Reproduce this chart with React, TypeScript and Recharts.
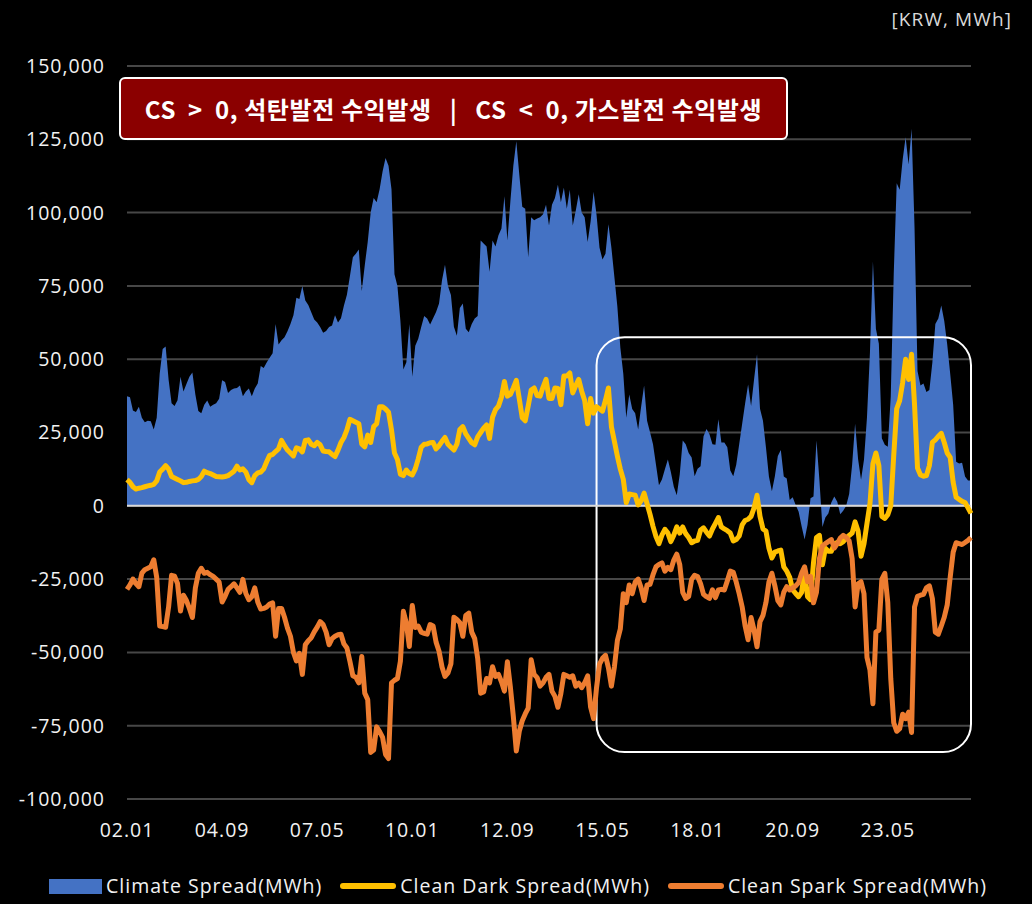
import {
  ComposedChart,
  Area,
  Line,
  CartesianGrid,
  XAxis,
  YAxis,
  ReferenceLine,
  ReferenceArea,
} from "recharts";

// monthly spreads, KRW/MWh, 2002.01 .. 2025.09
const climateSpread = [
  37400, 37000, 32500, 32000, 33800, 30000, 28500, 29000, 28800, 26000, 30000, 45000,
  53500, 54300, 43000, 35000, 34000, 36000, 44000, 39000, 41500, 44000, 45500, 38000,
  32300, 31600, 34500, 35900, 33800, 34500, 35000, 36500, 42800, 42200, 38500, 39500,
  40000, 40200, 41000, 37400, 39000, 40000, 37400, 40000, 41700, 47700, 47000, 48900,
  50500, 52000, 62000, 55000, 56500, 57500, 59500, 62000, 65000, 71000, 70500, 75000,
  70000, 68500, 66000, 63500, 62500, 61000, 59000, 59600, 61000, 61500, 65000, 62500,
  64000, 68300, 72000, 78300, 84800, 86000, 87400, 73300, 82000, 90000, 100000, 105000,
  103500, 108000, 114000, 118600, 116000, 108000, 79000, 75000, 63000, 46500, 49000, 62000,
  44000, 54600, 57000, 61000, 64700, 63900, 61800, 64000, 66100, 69000, 76900, 82200,
  75000, 71900, 61100, 58000, 67500, 69000, 60400, 59200, 62000, 63900, 64700, 90500,
  89500, 88400, 79800, 90500, 88400, 92300, 94600, 105600, 90500, 103800, 116000, 124300,
  113000, 102000, 101300, 84800, 98400, 97400, 98000, 98400, 99400, 102700, 95600,
  102700, 105000, 109500, 103500, 108500, 101300, 107800, 95600, 100600, 106300, 100000, 98400,
  90000, 97000, 107100, 99200, 88000, 84000, 86000, 96000, 88000, 78000, 68000, 54000,
  45000, 30000, 38000, 33000, 31600, 26000, 33800, 41000, 29000, 25100, 21000, 14000,
  7000, 9000, 12500, 15800, 11500, 6500, 3600, 10800, 22300, 21000, 18000,
  16500, 10100, 12600, 13500, 23700, 26200, 24400, 21000, 20800, 29500, 21600, 21600,
  20000, 12000, 10100, 14000, 21000, 28000, 35000, 41400, 34000, 43100, 51700, 33100,
  29000, 20000, 10000, 5000, 10100, 17000, 19000, 10000, 9300, 2000, 2900, 300,
  -2000, -7000, -11500, -6500, 2600, 3200, 22300, 8600, -7200, -4000, -2600,
  1100, 3200, 1400, -2900, -1700, 0, 4000, 14000, 28000, 16000, 8900, 15800,
  30200, 52400, 83300, 60400, 55300, 23000, 20800, 20100, 37400, 79000, 110000, 107800,
  118000, 125700, 116400, 128600, 94800, 46000, 41000, 41700, 38800, 39500, 48900, 62000,
  63900, 68300, 63000, 55000, 45000, 34500, 15000, 14400, 14700, 10000, 8600, 8600,
];

const cleanDark = [
  8900, 8000, 6500, 5700, 6000, 6200, 6500, 6800, 7000, 7300, 8500, 11500,
  12500, 13700, 12500, 10000, 9500, 9000, 8500, 7900, 8000, 8300, 8500, 8600,
  9000, 10000, 11800, 11300, 11000, 10500, 10000, 9900, 9800, 10000, 10300, 11000,
  11800, 13500, 12200, 12600, 11500, 8900, 7900, 10300, 11200, 11500, 12600, 15000,
  17200, 17500, 18500, 19400, 22300, 20500, 19000, 18000, 17000, 19800, 19400, 18400,
  22300, 22500, 21000, 20500, 21600, 20800, 18700, 18500, 18400, 17500, 16800, 19000,
  21600, 23300, 25900, 29500, 29000, 28500, 28000, 21000, 20100, 24100, 21600, 27000,
  28000, 33800, 33800, 33000, 31900, 25900, 18000, 15800, 10800, 10300, 12200, 11000,
  10500, 12600, 16000, 20000, 21000, 21100, 21500, 21600, 19400, 20500, 22000, 23300,
  21000, 20000, 19000, 21000, 26000, 27000, 24500, 23000, 21500, 20800, 23500, 25000,
  26500, 27600, 23000, 30200, 32800, 34000, 37000, 42400, 37400, 38000, 40200, 42800,
  36500, 30000, 29000, 34000, 39500, 40200, 37600, 37400, 40500, 43100, 36600,
  36600, 40200, 40000, 34500, 44300, 44300, 45300, 38500, 41000, 43100, 39100, 35900,
  28000, 36600, 31600, 33800, 33000, 32300, 36000, 40200, 27000, 22000, 17000, 12500,
  9000, 1100, 4000, 3800, 3600, 300, 1700, 4300, 700, -2900, -7000, -10500,
  -12900, -10000, -8000, -9300, -12200, -10000, -7200, -9300, -7200, -9500, -10800,
  -12600, -12000, -11800, -8300, -7500, -9000, -10300, -7900, -6000, -4000, -7200, -7900,
  -8500, -9300, -12000, -11500, -10300, -6500, -5000, -4600, -3600, -700, 3600, -3600,
  -7900, -8600, -14400, -17800, -15800, -15400, -15100, -20800, -22300, -24400, -28700, -29900,
  -31000, -29500, -22300, -31000, -32000, -19400, -10800, -10100, -20100, -14500, -15500,
  -15500, -13000, -12500, -12900, -12200, -11000, -10100, -9300, -5500, -8600, -17200, -12900,
  -6000, 700, 14400, 18000, 13700, -3600, -4300, -3000, 0, 17200, 33100, 35900,
  42000, 50000, 43100, 51700, 34500, 12900, 10500, 10100, 10300, 13700, 21600, 22500,
  23700, 24700, 21600, 18000, 16500, 8000, 2900, 2200, 1500, 1100, -700, -2600,
];

const cleanSpark = [
  -28500, -27000, -25000, -26500, -27600, -23000, -21800, -21300, -20800, -18400, -24400, -41000,
  -41200, -41400, -34500, -23700, -24000, -26500, -35900, -30500, -32300, -35000, -38100, -28000,
  -23000, -21300, -23000, -22700, -23500, -24100, -25000, -26000, -32800, -30900, -28500, -27600,
  -26600, -28000, -29500, -25100, -29900, -32000, -31000, -28000, -32800, -35200, -35000, -34500,
  -33500, -33100, -44500, -35000, -35000, -38000, -41700, -44500, -50000, -52900, -50300, -57500,
  -47400, -46000, -45000, -43000, -41400, -39500, -40500, -43100, -47400, -45300, -44500, -44000,
  -43800, -47100, -48500, -53000, -58000, -58500, -60400, -51400, -63900, -66100, -84100, -83300,
  -75400, -77000, -79000, -84800, -86200, -60400, -59500, -58900, -53000, -36000, -40000, -48000,
  -34000, -41500, -41000, -43100, -43500, -43800, -40500, -41000, -46500, -49600, -55000, -58200,
  -57000, -53900, -38000, -38800, -39900, -44500, -37400, -36600, -43100, -45300, -52000, -63900,
  -63500, -58900, -60400, -54900, -58200, -57500, -60000, -63200, -53200, -61800, -71900, -83600,
  -76900, -73300, -71000, -69000, -52500, -57500, -58600, -61500, -60400, -58500, -57500,
  -63200, -65000, -68700, -64000, -57500, -58000, -58500, -58000, -61500, -60500, -62000, -60400,
  -58000, -68700, -72600, -62000, -54000, -52000, -51000, -55300, -61500, -55000, -46000, -42000,
  -30000, -33000, -27000, -30000, -26000, -25000, -28000, -32300, -27000, -26800, -23500, -20800,
  -20000, -19500, -22300, -21000, -21800, -18500, -16500, -20100, -29500, -31600, -30900,
  -25100, -23700, -24100, -26600, -30200, -31000, -31600, -28700, -31300, -28700, -28500, -28700,
  -25600, -22300, -22700, -26000, -30000, -34500, -41000, -45700, -38100, -42400, -48100, -39500,
  -37400, -33000, -26000, -23000, -27300, -32300, -33800, -29500, -27600, -28700, -28000, -27300,
  -26200, -23000, -20800, -25900, -24100, -33100, -29500, -18000, -13700, -12900, -12200,
  -11500, -14400, -12900, -11000, -10100, -10800, -12000, -18000, -34500, -26600, -25900, -30000,
  -51700, -56000, -67500, -43100, -42400, -25100, -23000, -33000, -58900, -74000, -76900, -76000,
  -71100, -72600, -70400, -77300, -34500, -30900, -30500, -30200, -28000, -27300, -31600, -43100,
  -43800, -41000, -38000, -33800, -24400, -15800, -12600, -12900, -13200, -12500, -11800, -10800,
];

const xTicks = ["02.01", "04.09", "07.05", "10.01", "12.09", "15.05", "18.01", "20.09", "23.05"];
const yTicks = [-100000, -75000, -50000, -25000, 0, 25000, 50000, 75000, 100000, 125000, 150000];

// YY.MM labels starting 2002.01
const months = climateSpread.map((_, i) => {
  const y = (2 + Math.floor(i / 12)) % 100;
  const m = (i % 12) + 1;
  return `${String(y).padStart(2, "0")}.${String(m).padStart(2, "0")}`;
});

const rows = months.map((m, i) => ({
  month: m,
  climate: climateSpread[i],
  dark: cleanDark[i],
  spark: cleanSpark[i],
}));

const C = {
  bg: "#000000",
  grid: "#474747",
  ink: "#f2f2f2",
  blue: "#4472C4",
  yellow: "#FFC000",
  orange: "#ED7D31",
};

const FONT = "'Open Sans', 'Noto Sans', sans-serif";

const tickStyle = { fill: C.ink, fontSize: 19.5, fontFamily: FONT, letterSpacing: 1 };

function LegendItem({ kind, color, label }: { kind: "box" | "line"; color: string; label: string }) {
  return (
    <div style={{ display: "flex", alignItems: "center", marginRight: 18 }}>
      {kind === "box" ? (
        <div style={{ width: 53, height: 15, background: color, marginRight: 4 }} />
      ) : (
        <div style={{ width: 56, height: 6, borderRadius: 3, background: color, marginRight: 4 }} />
      )}
      <span style={{ letterSpacing: 1 }}>{label}</span>
    </div>
  );
}

export default function App() {
  return (
    <div
      style={{
        position: "absolute",
        left: 0,
        top: 0,
        width: 1032,
        height: 904,
        background: C.bg,
        overflow: "hidden",
      }}
    >
      <ComposedChart
        width={1032}
        height={904}
        data={rows}
        margin={{ top: 66, right: 61, left: 0, bottom: 75 }}
      >
        <CartesianGrid stroke={C.grid} strokeWidth={2} vertical={false} />
        <XAxis
          dataKey="month"
          ticks={xTicks}
          interval={0}
          axisLine={false}
          tickLine={false}
          tickSize={0}
          tickMargin={24}
          height={30}
          tick={tickStyle}
        />
        <YAxis
          type="number"
          domain={[-100000, 150000]}
          ticks={yTicks}
          axisLine={false}
          tickLine={false}
          tickSize={0}
          tickMargin={22}
          width={127}
          tick={tickStyle}
          tickFormatter={(v: number) => v.toLocaleString("en-US")}
        />
        <Area
          type="linear"
          dataKey="climate"
          name="Climate Spread(MWh)"
          stroke="none"
          fill={C.blue}
          fillOpacity={1}
          baseValue={0}
          isAnimationActive={false}
        />
        <ReferenceLine y={0} stroke="#d9d9d9" strokeWidth={2} />
        <ReferenceArea
          x1="15.03"
          x2="25.09"
          y1={-84000}
          y2={57500}
          shape={(p: any) => (
            <rect
              x={p.x}
              y={p.y}
              width={p.width}
              height={p.height}
              rx={28}
              ry={28}
              fill="none"
              stroke="#ffffff"
              strokeWidth={2}
            />
          )}
        />
        <Line
          type="linear"
          dataKey="dark"
          name="Clean Dark Spread(MWh)"
          stroke={C.yellow}
          strokeWidth={5}
          strokeLinejoin="round"
          dot={false}
          isAnimationActive={false}
        />
        <Line
          type="linear"
          dataKey="spark"
          name="Clean Spark Spread(MWh)"
          stroke={C.orange}
          strokeWidth={5}
          strokeLinejoin="round"
          dot={false}
          isAnimationActive={false}
        />
      </ComposedChart>

      {/* unit */}
      <div
        style={{
          position: "absolute",
          right: 20,
          top: 6,
          color: "#d9d9d9",
          fontFamily: FONT,
          fontSize: 19,
          letterSpacing: 1.1,
        }}
      >
        [KRW, MWh]
      </div>

      {/* annotation box */}
      <div
        style={{
          position: "absolute",
          left: 119,
          top: 77,
          width: 669,
          height: 63,
          boxSizing: "border-box",
          background: "#8B0000",
          border: "2px solid #ffffff",
          borderRadius: 6,
          display: "flex",
          alignItems: "center",
          justifyContent: "center",
          color: "#ffffff",
          fontFamily: "'Noto Sans CJK KR', 'Noto Sans', sans-serif",
          fontWeight: 700,
          fontSize: 24,
          letterSpacing: 0.6,
          whiteSpace: "pre",
        }}
      >
        <span>{"CS  >  0, 석탄발전 수익발생"}</span>
        <span style={{ margin: "0 18px" }}>|</span>
        <span>{"CS  <  0, 가스발전 수익발생"}</span>
      </div>

      {/* legend */}
      <div
        style={{
          position: "absolute",
          left: 49,
          top: 872,
          display: "flex",
          alignItems: "center",
          color: C.ink,
          fontFamily: FONT,
          fontSize: 19.5,
          lineHeight: "28px",
        }}
      >
        <LegendItem kind="box" color={C.blue} label="Climate Spread(MWh)" />
        <LegendItem kind="line" color={C.yellow} label="Clean Dark Spread(MWh)" />
        <LegendItem kind="line" color={C.orange} label="Clean Spark Spread(MWh)" />
      </div>
    </div>
  );
}
